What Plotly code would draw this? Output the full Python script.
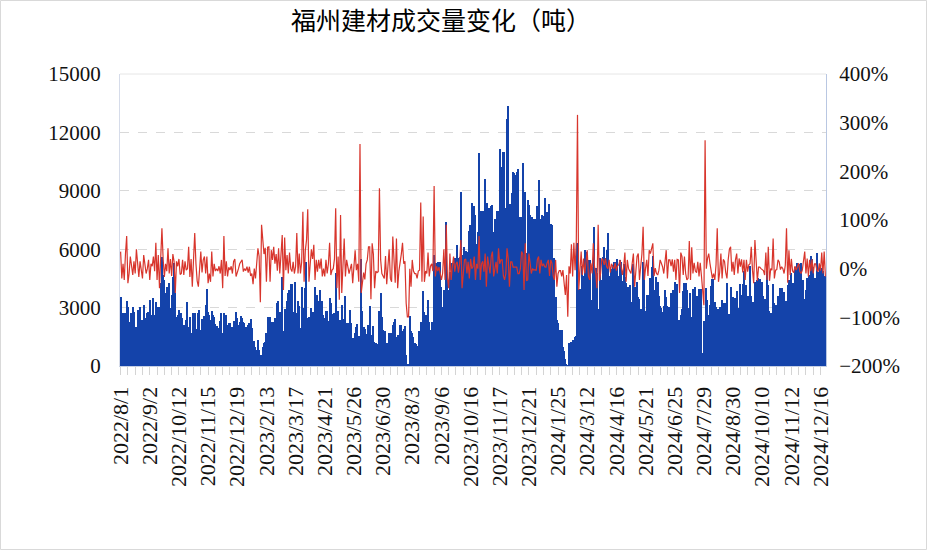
import plotly.graph_objects as go

tick_labels = ["2022/8/1", "2022/9/2", "2022/10/12", "2022/11/15", "2022/12/19",
               "2023/2/13", "2023/3/17", "2023/4/21", "2023/5/26", "2023/6/30",
               "2023/8/3", "2023/9/6", "2023/10/16", "2023/11/17", "2023/12/21",
               "2024/1/25", "2024/3/12", "2024/4/16", "2024/5/21", "2024/6/25",
               "2024/7/29", "2024/8/30", "2024/10/10", "2024/11/12", "2024/12/16"]
label_step = 24  # one label every 24 trading days
tick_step = 6    # one tick mark every 6 trading days

# daily volume (tonnes)
volume = [
    3530, 2720, 2720, 2720, 2720, 3330, 3050, 2020, 2250, 2720,
    3050, 2790, 2020, 2020, 2880, 2450, 3050, 2360, 2360, 3130,
    2450, 2450, 2700, 2790, 3390, 2620, 2280, 3480, 2620, 3270,
    3050, 1930, 3050, 4250, 5610, 4670, 4420, 3730, 4070, 2960,
    4250, 2960, 3650, 4590, 5270, 3730, 2530, 2620, 2880, 2450,
    2700, 2450, 2100, 2100, 2360, 3300, 2020, 2530, 1680, 1160,
    2700, 2700, 1880, 1880, 2700, 2880,
    1850, 2400, 2190, 2570, 3130, 3950, 2790, 2600, 2360, 2840,
    2620, 2530, 2160, 2070, 1930, 1930, 2300, 2700, 1680, 2700,
    2360, 2620, 2100, 2190, 2230, 2020, 2020, 2330, 2280, 2760,
    2450, 2100, 2280, 2570, 2450, 2280, 2190, 2020, 2020, 2100,
    2230, 2400, 1930, 1300, 1300, 990, 820, 1340, 820, 310,
    565, 990, 1200, 1250, 1680, 2500, 1815, 2530, 1815, 2280,
    2280, 2450, 2280, 3220, 3360, 2760,
    2760, 4590, 1815, 2930, 2620, 3360, 3730, 3900, 4210, 4210,
    2760, 2570, 4330, 2700, 3360, 3080, 1930, 4040, 2960, 2960,
    3990, 5360, 2450, 2530, 2070, 2960, 2760, 2760, 4070, 3010,
    3650, 3360, 3900, 3300, 3360, 2620, 2450, 2840, 2840, 2330,
    3480, 3220, 2650, 2160, 2700, 4790, 2840, 2840, 1110, 2360,
    3130, 1500, 2400, 3600, 2190, 2190, 2190, 2880, 2190, 1420,
    1200, 1680, 2020, 2140, 1540, 1540,
    5480, 2840, 2020, 1880, 1470, 1640, 2100, 3080, 1130, 1590,
    2050, 1250, 1200, 1110, 1110, 2820, 3730, 2500, 1850, 1420,
    1815, 1160, 1200, 1710, 1250, 1680, 2100, 2240, 2400, 1500,
    1590, 1420, 2100, 2100, 1815, 1880, 2050, 565, 100, 60,
    2570, 1815, 1710, 1500, 1200, 1130, 1030, 1030, 1800, 2280,
    1880, 3870, 2760, 2620, 2620, 3390, 2280, 1850, 2280, 2280,
    5700, 5100, 5310, 5360, 5360, 5360,
    4070, 3010, 3900, 3730, 7410, 4590, 3900, 4850, 4850, 5270,
    5270, 5530, 5480, 6210, 5530, 5620, 8950, 5700, 5270, 6130,
    5920, 5870, 5870, 6950, 7240, 8390, 6780, 8220, 7760, 6270,
    6900, 10960, 7760, 7980, 7980, 7530, 9590, 5960, 8390, 8130,
    6390, 8220, 8270, 6900, 7530, 6850, 7980, 7980, 11130, 10200,
    10030, 11010, 11010, 8100, 12670, 13350, 8320, 8320, 8900, 9980,
    9900, 9810, 9980, 10100, 7630, 7670,
    7670, 10410, 6810, 8950, 5820, 8530, 8270, 7760, 7670, 7670,
    7530, 7530, 6850, 8230, 9550, 7530, 7530, 7760, 7700, 8610,
    7930, 7930, 7240, 8320, 7290, 7240, 5020, 5530, 3530, 2360,
    2190, 1850, 1850, 1850, 990, 790, 340, 100, 30, 1160,
    860, 1250, 1340, 1340, 1510, 1540, 6330, 3940, 3940, 3730,
    5140, 4620, 5960, 5870, 5700, 5440, 5440, 3050, 3390, 5070,
    7120, 5020, 4760, 2910, 2910,
    5530, 4420, 5620, 6090, 5530, 5960, 6810, 4330, 4620, 4960,
    5190, 5360, 5360, 5360, 5480, 4620, 5440, 5360, 4380, 5240,
    4590, 4280, 3530, 4070, 4160, 3300, 3300, 5240, 4070, 3300,
    4330, 3530, 3420, 2910, 2910, 5360, 4850, 2840, 3650, 3650,
    3050, 4500, 5070, 5650, 3900, 3900, 4550, 4330, 3600, 3080,
    2960, 2790, 3080, 3900, 3530, 3080, 3010, 3010, 3730, 3650,
    3900, 4330, 4210, 4210, 2360, 2360,
    2600, 2910, 3870, 4280, 4280, 3900, 2450, 3000, 3730, 2500,
    3940, 3600, 4040, 3600, 3600, 3940, 3360, 3940, 685, 2330,
    2330, 3990, 3390, 2620, 3130, 4110, 4450, 4450, 3300, 3010,
    2190, 2910, 3010, 2400, 3390, 2960, 3250, 3250, 4280, 2530,
    2670, 4070, 3560, 3560, 2910, 3480, 3870, 2960, 2960, 4210,
    3650, 4210, 4900, 3480, 4160, 3600, 3600, 5140, 3600, 3300,
    3300, 4330, 4110, 4420, 4500, 4450,
    4330, 4330, 3600, 3420, 3420, 4900, 4160, 2840, 2740, 2620,
    4210, 3250, 3130, 3130, 3600, 3420, 3990, 3990, 3820, 3820,
    3130, 3360, 4160, 4420, 4160, 4790, 4280, 4280, 5100, 4900,
    5270, 5240, 4760, 5270, 4330, 4420, 3420, 3900, 4500, 4500,
    4670, 5650, 5480, 5100, 4500, 4500, 5820, 4850, 4500, 5020,
    5020, 4900, 4420, 4620,
]

# daily change (%)
pct = [
    35, -20, 10, -23, 30, 67, -30, -10, 25, 5,
    -13, 15, -10, 40, 5, -17, 15, 0, -20, 28,
    5, -10, 0, 18, -23, 10, 5, 25, -5, 53,
    -23, 28, -40, 10, 83, 20, -17, 10, -5, 42,
    -10, 20, -15, 30, 15, -50, 15, 5, 20, -12,
    -10, 18, -13, 15, -3, 0, 45, -17, 20, -37,
    10, 73, 10, -25, -37, 0,
    35, -8, 18, 25, -10, 25, -30, -10, -27, 35,
    -16, 10, -5, 0, -5, 5, -10, 18, -40, 67,
    -15, 15, -16, 3, -3, 5, -10, 15, 20, -16,
    -10, 0, 10, 15, 18, -6, 0, -4, 4, -8,
    4, -15, -10, -32, 0, -20, 10, 42, 25, -69,
    90, 53, 30, 43, -27, 44, 45, -27, 38, 18,
    45, 10, 30, -4, 42, -10,
    31, 69, -44, 64, -3, 28, -10, 33, 0, -6,
    14, -10, 4, 73, -10, 31, -10, 14, 117, -27,
    37, 59, 122, -27, 8, 40, 20, 49, -23, 18,
    -6, 18, 0, 21, -16, 0, -16, 18, -10, 10,
    53, -13, -3, 0, 20, 124, -40, 25, -64, 110,
    -50, 20, 62, -16, 18, 4, -10, 0, 10, -30,
    4, 38, -3, 10, -27, 256,
    -50, -30, -8, -22, 10, 18, 45, 45, -63, 52,
    30, -40, -5, -8, -6, 165, 18, -10, -15, -20,
    26, -32, 5, 40, -20, -27, 66, 5, -29, 62,
    -40, -5, 10, 30, 53, 10, 15, -71, -99, -99,
    0, -37, 18, -5, -10, -10, -20, -5, -3, 136,
    -27, 107, -27, -5, -10, 33, -16, 5, 10, -5,
    170, -16, 5, -5, 3, -10,
    -23, -10, 40, -23, 90, -20, -40, 31, -23, 5,
    25, -6, 10, 14, -8, 10, 59, -40, -10, 18,
    20, -10, 14, -20, 20, 0, 4, 25, -23, 10,
    0, 67, -23, 10, 15, -6, 31, -37, 25, 10,
    -10, 25, 35, -16, 5, 14, -10, 42, 10, 18,
    18, -15, -23, -10, 42, 20, -37, 14, 14, 3,
    3, 3, 3, -10, -10, 0,
    35, 30, -44, 52, -25, -23, 31, 12, -10, 0,
    -3, -2, -4, 19, 25, -10, 18, 5, 10, 4,
    3, 12, 18, -15, 18, 11, -15, -23, 18, -37,
    -10, -4, -4, -16, -3, -30, -54, -13, -99, 5,
    -10, 50, -16, 53, -3, 55, 316, -44, 1, 35,
    -13, 21, -10, 18, 38, -16, -23, 11, -10, 52,
    4, -10, -40, 90, -25,
    -10, 21, 18, 8, 21, 4, 0, 18, -8, 10,
    4, 0, 12, -4, 6, 8, 18, 1, -13, 5,
    33, -27, 18, 0, -4, -10, 11, 31, -37, 4,
    25, 31, -23, 4, 30, 86, -23, 1, 18, -15,
    38, 31, 40, 52, -15, 1, -10, -13, -3, 18,
    11, 4, -10, 20, 38, -20, 18, 18, 5, 19,
    -6, 18, -23, 19, 18, -50,
    33, 25, -13, 25, -10, -23, -20, 57, -23, 44,
    -10, 12, -5, -8, 14, -16, 12, -15, -50, -75,
    264, 0, 21, 31, 11, -10, -20, -10, -23, 8,
    83, -27, -8, 31, -20, 19, 15, -8, -20, 18,
    40, 45, -6, 14, -13, 18, 31, -10, 21, 4,
    19, -8, 18, -23, 18, -6, 8, 10, 45, -3,
    -30, 59, 18, -25, 3, 3,
    0, -2, -4, -13, 33, -23, 45, -25, 0, -3,
    62, -20, -3, -2, 18, 14, -2, 4, 0, -10,
    7, 83, -29, 38, -13, 20, -5, -8, 5, -3,
    7, 11, -6, -10, -3, 20, 35, -10, 21, -16,
    18, -5, 19, -10, 10, 10, -3, -6, 11, -4,
    33, -10, 35, -16,
]

n = min(len(volume), len(pct))
day = list(range(n))

# tick marks every 6 days, text only every 24 days
tick_pos = list(range(0, n, tick_step))
tick_text = []
for p in tick_pos:
    k = p // label_step
    tick_text.append(tick_labels[k] if p % label_step == 0 and k < len(tick_labels) else "")

W, H = 927, 550
ML, MR, MT, MB = 120, 101, 74, 184
PW, PH = W - ML - MR, H - MT - MB

serif = "Liberation Serif, Times New Roman, serif"
y_font = dict(family=serif, size=21, color="#111111")
x_font = dict(family=serif, size=22, color="#111111")

fig = go.Figure()
fig.add_trace(go.Bar(x=day, y=volume[:n], marker=dict(color="#1443AA", line=dict(width=0)),
                     name="成交量", hoverinfo="skip"))
fig.add_trace(go.Scatter(x=day, y=pct[:n], yaxis="y2", mode="lines",
                         line=dict(color="#D8352C", width=1.2), name="变化"))

fig.update_layout(
    width=W, height=H,
    margin=dict(l=ML, r=MR, t=MT, b=MB),
    paper_bgcolor="white", plot_bgcolor="white",
    showlegend=False, bargap=0,
    title=dict(text="福州建材成交量变化（吨）", x=441 / W, xanchor="center",
               y=1 - 21 / H, yanchor="middle",
               font=dict(family="Noto Sans CJK SC", size=25, color="#000000")),
    xaxis=dict(range=[-0.5, n - 0.5], tickmode="array", tickvals=tick_pos, ticktext=tick_text,
               tickangle=-90, tickfont=x_font, showgrid=False, zeroline=False,
               showline=True, linecolor="#C6D0E4", linewidth=1,
               ticks="outside", ticklen=8, tickcolor="#D4D4D4", tickwidth=1,
               ticklabelstandoff=3),
    yaxis=dict(range=[0, 15000], tickmode="array", tickvals=[0, 3000, 6000, 9000, 12000, 15000],
               tickformat="d",
               showgrid=True, gridcolor="#D9D9D9", griddash="dash", gridwidth=1,
               zeroline=False, showline=True, linecolor="#D6DCEA", linewidth=1,
               tickfont=y_font, ticks="", ticklabelstandoff=14),
    yaxis2=dict(overlaying="y", side="right", range=[-200, 400], tickmode="linear",
                tick0=-200, dtick=100, ticksuffix="%", showgrid=False, zeroline=False,
                showline=True, linecolor="#B9C7E2", linewidth=1,
                tickfont=y_font, ticks="", ticklabelstandoff=8),
    shapes=[
        dict(type="line", xref="paper", yref="paper", x0=0, x1=1, y0=1, y1=1,
             line=dict(color="#E6E6E6", width=1)),
        dict(type="rect", xref="paper", yref="paper",
             x0=(-ML + 0.5) / PW, x1=(W - ML - 0.5) / PW,
             y0=(-MB + 0.5) / PH, y1=1 + (MT - 0.5) / PH,
             line=dict(color="#D9D9D9", width=1), fillcolor="rgba(0,0,0,0)", layer="above"),
    ],
)

fig.write_html("out.html")
